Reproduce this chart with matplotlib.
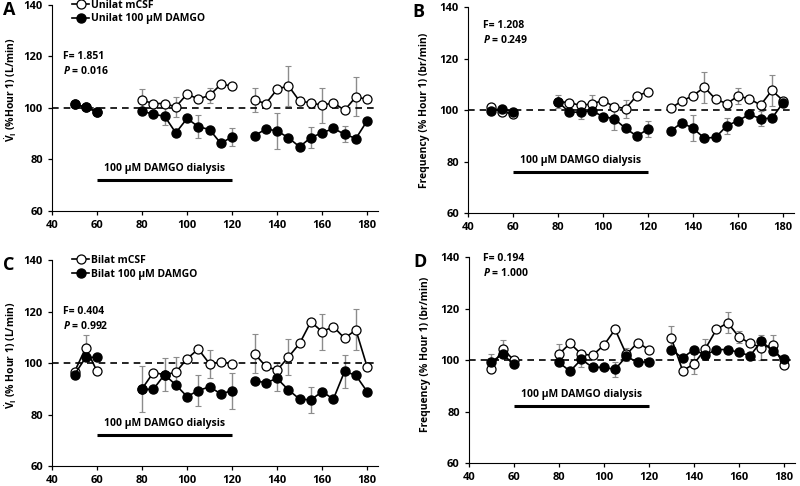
import numpy as np
import matplotlib
matplotlib.use("Agg")
import matplotlib.pyplot as plt

plt.rcParams['font.family'] = ['Open Sans', 'DejaVu Sans']
plt.rcParams['font.weight'] = 'bold'
plt.rcParams['mathtext.fontset'] = 'custom'
plt.rcParams['mathtext.rm'] = 'Open Sans:bold'
plt.rcParams['mathtext.it'] = 'Open Sans:bold:italic'
plt.rcParams['mathtext.bf'] = 'Open Sans:bold'

# --- time points (min) ---
times = [50, 55, 60, 80, 85, 90, 95, 100, 105, 110, 115, 120,
         130, 135, 140, 145, 150, 155, 160, 165, 170, 175, 180]

# --- Panel A: unilateral, minute ventilation ---
a_open = [101.5, 100.2, 98.5, 103.0, 101.7, 101.7, 100.4, 105.4, 103.4, 104.9, 109.1, 108.6,
          103.0, 101.7, 107.2, 108.6, 102.6, 102.0, 101.0, 102.0, 99.1, 104.3, 103.3]
a_open_err = [0, 0, 0, 4.5, 0, 0, 4.0, 0, 0, 3.0, 0, 0,
              4.7, 0, 0, 7.7, 0, 0, 6.7, 0, 0, 7.6, 0]
a_fill = [101.5, 100.2, 98.5, 98.8, 97.5, 96.8, 90.3, 95.9, 92.7, 91.6, 86.2, 88.8,
          89.2, 91.8, 91.1, 88.4, 84.9, 88.5, 90.3, 92.0, 89.8, 88.1, 95.0]
a_fill_err = [0, 0, 0, 0, 0, 3.5, 0, 0, 4.5, 0, 0, 3.5,
              0, 0, 7.0, 0, 0, 4.0, 0, 0, 3.0, 0, 0]

# --- Panel B: unilateral, frequency ---
b_open = [101.2, 99.5, 98.6, 103.4, 103.0, 101.9, 102.5, 103.8, 101.4, 100.7, 105.7, 107.1,
          100.8, 103.6, 105.7, 109.0, 104.3, 102.6, 105.6, 104.4, 102.1, 107.7, 103.8]
b_open_err = [0, 0, 0, 0, 0, 0, 3.5, 0, 0, 3.5, 0, 0,
              0, 0, 0, 6.0, 0, 0, 3.0, 0, 0, 6.0, 0]
b_fill = [99.8, 100.6, 99.5, 103.3, 99.3, 99.3, 99.8, 97.6, 96.7, 93.0, 90.0, 92.7,
          92.0, 95.2, 93.0, 89.2, 89.5, 94.0, 96.0, 98.4, 96.8, 96.9, 103.0]
b_fill_err = [0, 0, 0, 2.5, 0, 2.5, 0, 0, 4.5, 0, 0, 3.0,
              0, 0, 5.0, 0, 0, 3.0, 0, 0, 3.0, 0, 0]

# --- Panel C: bilateral, minute ventilation ---
c_open = [96.6, 105.9, 96.8, 90.0, 96.3, 95.5, 96.4, 101.7, 105.4, 99.7, 100.4, 99.7,
          103.6, 98.7, 97.2, 102.3, 107.6, 116.0, 112.2, 114.1, 109.6, 112.9, 98.5]
c_open_err = [0, 5.0, 0, 0, 0, 6.3, 6.0, 0, 0, 5.5, 0, 0,
              7.5, 0, 3.0, 7.0, 0, 0, 7.0, 0, 0, 8.0, 0]
c_fill = [95.5, 102.2, 102.2, 89.8, 89.8, 95.5, 91.5, 87.0, 89.3, 90.8, 88.0, 89.3,
          93.1, 92.4, 94.0, 89.6, 86.0, 85.7, 88.9, 86.0, 96.8, 95.2, 88.9]
c_fill_err = [0, 0, 0, 9.0, 0, 0, 0, 0, 6.0, 0, 0, 7.0,
              0, 0, 5.0, 0, 0, 5.0, 0, 0, 6.5, 0, 0]

# --- Panel D: bilateral, frequency ---
d_open = [96.5, 104.5, 100.0, 102.3, 106.5, 102.3, 101.9, 105.8, 111.9, 102.2, 106.8, 104.1,
          108.4, 95.9, 98.5, 104.3, 111.9, 114.5, 109.0, 106.5, 104.9, 105.8, 98.1]
d_open_err = [0, 3.5, 0, 4.0, 0, 0, 0, 0, 0, 2.5, 0, 0,
              5.0, 0, 4.0, 4.0, 0, 4.0, 2.5, 0, 5.0, 4.0, 0]
d_fill = [99.4, 102.2, 98.5, 99.1, 95.7, 100.3, 97.2, 97.2, 96.4, 101.5, 99.1, 99.4,
          103.9, 100.9, 104.1, 101.9, 104.1, 104.1, 103.0, 101.7, 107.4, 103.5, 100.4]
d_fill_err = [3.0, 0, 0, 0, 0, 3.0, 0, 0, 3.0, 0, 0, 0,
              0, 0, 0, 0, 0, 0, 0, 0, 0, 0, 0]

stats = {'A': ('1.851', '0.016'), 'B': ('1.208', '0.249'),
         'C': ('0.404', '0.992'), 'D': ('0.194', '1.000')}

vi_label = r'$\dot{\mathrm{V}}_{\mathrm{I}}$ (%Hour 1) (L/min)'
vi_label_c = r'$\dot{\mathrm{V}}_{\mathrm{I}}$ (% Hour 1) (L/min)'
freq_label = 'Frequency (% Hour 1) (br/min)'

FS = 7.5


def segments(x, y):
    # split series where the recording had a gap
    x = np.asarray(x, float)
    y = np.asarray(y, float)
    cuts = np.where(np.diff(x) > 5)[0] + 1
    return zip(np.split(x, cuts), np.split(y, cuts))


def draw_panel(ax, letter, open_y, open_err, fill_y, fill_err, ylabel,
               legend_names, stat_pos, bar_y, label_xy, letter_x):
    x = np.asarray(times, float)
    for yv, ev in [(open_y, open_err), (fill_y, fill_err)]:
        ev = np.asarray(ev, float)
        m = ev > 0
        ax.errorbar(x[m], np.asarray(yv)[m], yerr=ev[m], fmt='none',
                    ecolor='#8c8c8c', elinewidth=1.0, capsize=2, capthick=0.8, zorder=1)
    for sx, sy in segments(times, open_y):
        ax.plot(sx, sy, color='black', lw=1.2, marker='o', ms=6.5,
                mfc='white', mec='black', mew=0.9, zorder=3)
    for sx, sy in segments(times, fill_y):
        ax.plot(sx, sy, color='black', lw=1.2, marker='o', ms=6.5,
                mfc='black', mec='black', zorder=4)

    ax.axhline(100, color='black', lw=1.2, ls=(0, (4, 3)), zorder=2)
    ax.plot([60, 120], [bar_y, bar_y], color='black', lw=2.2, solid_capstyle='butt')
    ax.text(90, bar_y + 2.2, '100 µM DAMGO dialysis', ha='center', va='bottom',
            fontsize=FS, fontweight='bold')

    F, P = stats[letter]
    ax.text(stat_pos[0], stat_pos[1], 'F= ' + F, fontsize=FS, fontweight='bold',
            va='center')
    ax.text(stat_pos[0], stat_pos[1] - 5.6, r'$\mathit{P}$ = ' + P, fontsize=FS,
            fontweight='bold', va='center')

    ax.set_xlim(40, 185)
    ax.set_ylim(60, 140)
    ax.set_xticks(range(40, 181, 20))
    ax.set_yticks(range(60, 141, 20))
    ax.spines['top'].set_visible(False)
    ax.spines['right'].set_visible(False)
    ax.tick_params(labelsize=FS + 0.5, length=3, width=0.9, direction='out')
    for lab in ax.get_xticklabels() + ax.get_yticklabels():
        lab.set_fontweight('bold')
    ax.set_ylabel(ylabel, fontsize=FS, fontweight='bold')
    ax.yaxis.set_label_coords(*label_xy)
    ax.text(letter_x, 0.975, letter, transform=ax.transAxes, fontsize=13,
            fontweight='bold', ha='left', va='center')

    if legend_names:
        h1, = ax.plot([], [], color='black', lw=1.2, marker='o', ms=6.5,
                      mfc='white', mec='black', mew=0.9)
        h2, = ax.plot([], [], color='black', lw=1.2, marker='o', ms=6.5,
                      mfc='black', mec='black')
        ax.legend([h1, h2], legend_names, loc='upper left', bbox_to_anchor=(0.04, 1.06),
                  frameon=False, handlelength=1.6, handletextpad=0.2,
                  labelspacing=0.25, borderpad=0.2, prop={'weight': 'bold', 'size': FS})


fig = plt.figure(figsize=(8, 4.86), dpi=100)
axA = fig.add_axes([0.065, 0.566, 0.408, 0.424])
axB = fig.add_axes([0.585, 0.561, 0.408, 0.424])
axC = fig.add_axes([0.065, 0.041, 0.408, 0.424])
axD = fig.add_axes([0.586, 0.047, 0.408, 0.424])

draw_panel(axA, 'A', a_open, a_open_err, a_fill, a_fill_err, vi_label,
           ['Unilat mCSF', 'Unilat 100 µM DAMGO'], (45, 120), 72, (-0.1, 0.59), -0.15)
draw_panel(axB, 'B', b_open, b_open_err, b_fill, b_fill_err, freq_label,
           None, (46.5, 133), 76, (-0.115, 0.5), -0.17)
draw_panel(axC, 'C', c_open, c_open_err, c_fill, c_fill_err, vi_label_c,
           ['Bilat mCSF', 'Bilat 100 µM DAMGO'], (45, 120), 72, (-0.1, 0.54), -0.15)
draw_panel(axD, 'D', d_open, d_open_err, d_fill, d_fill_err, freq_label,
           None, (46.5, 139.3), 82.3, (-0.115, 0.53), -0.17)

fig.savefig('out.png', dpi=100)
